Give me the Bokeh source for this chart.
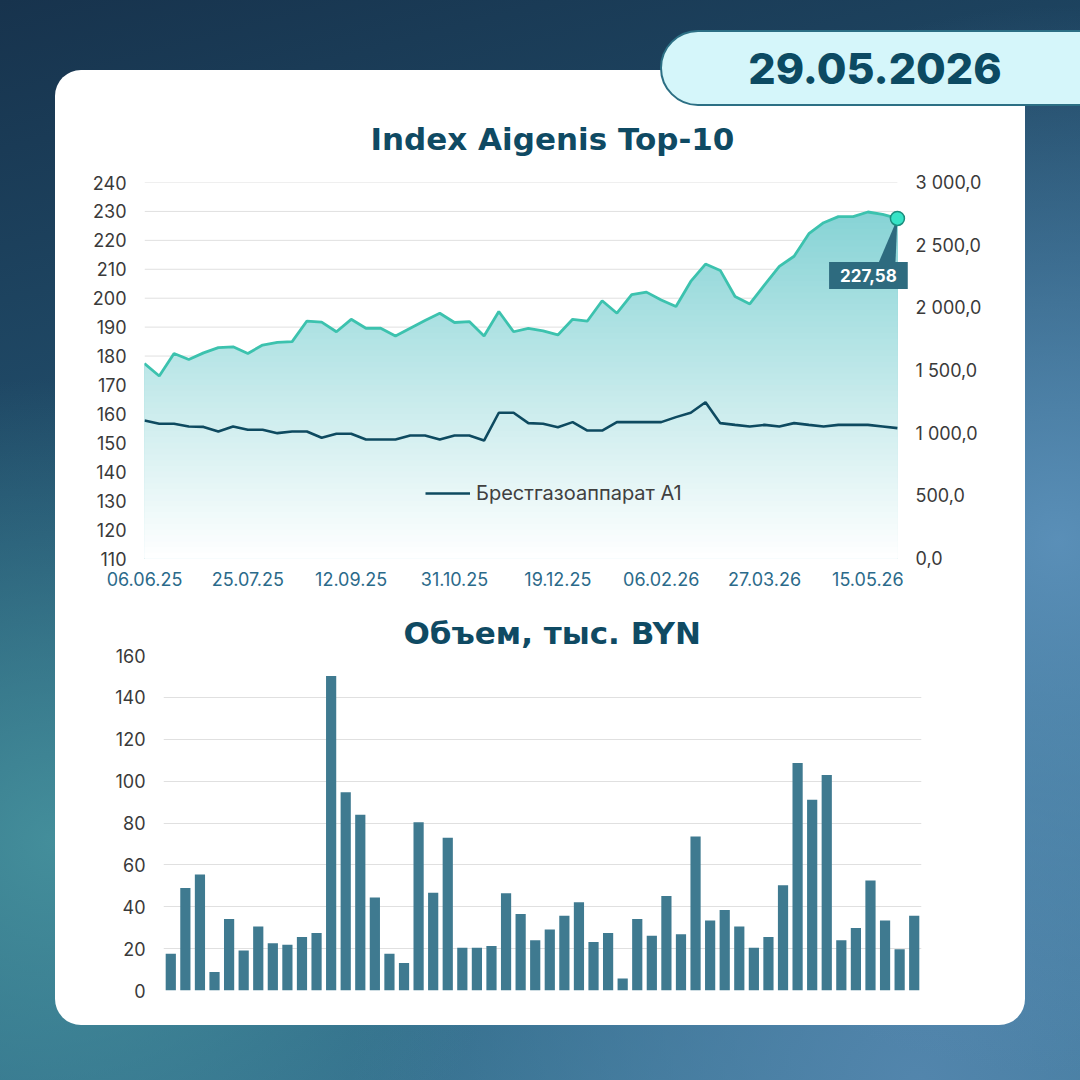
import numpy as np
import pandas as pd
from urllib.parse import quote
from bokeh.plotting import figure
from bokeh.models import (Range1d, LinearAxis, FixedTicker, DatetimeTickFormatter, Label,
                          Legend, LegendItem, Div, Spacer)
from bokeh.layouts import column, row
from bokeh.embed import file_html
from bokeh.resources import INLINE

FONT = "Inter"
TITLE_FONT = "DejaVu Sans"

# ---------------- data ----------------
report_date = "29.05.2026"
title_top = "Index Aigenis Top-10"
title_bottom = "Объем, тыс. BYN"
series_name = "Брестгазоаппарат А1"

dates = pd.date_range("2025-06-06", periods=52, freq="7D")
tick_labels = ["06.06.25", "25.07.25", "12.09.25", "31.10.25",
               "19.12.25", "06.02.26", "27.03.26", "15.05.26"]

index_values = [177.4, 173.1, 180.9, 178.8, 181.1, 182.9, 183.2, 180.9, 183.8, 184.7,
                185.0, 192.1, 191.7, 188.4, 192.7, 189.6, 189.6, 186.9, 189.6, 192.3,
                194.8, 191.6, 191.9, 186.9, 195.4, 188.4, 189.6, 188.7, 187.3, 192.7,
                192.1, 199.1, 194.8, 201.2, 202.1, 199.4, 197.1, 205.8, 211.8, 209.6,
                200.6, 198.0, 204.6, 211.0, 214.5, 222.3, 226.1, 228.2, 228.2, 229.8,
                229.0, 227.58]

brest_values = [1101, 1075, 1075, 1053, 1050, 1013, 1053, 1027, 1027, 1000,
                1013, 1013, 963, 995, 995, 949, 949, 949, 981, 981,
                949, 981, 981, 941, 1163, 1163, 1080, 1075, 1048, 1088,
                1021, 1021, 1088, 1088, 1088, 1088, 1128, 1163, 1247, 1080,
                1066, 1053, 1066, 1053, 1080, 1066, 1053, 1066, 1066, 1066,
                1053, 1040]

volume_values = [17.5, 48.9, 55.4, 8.8, 34.2, 19.1, 30.6, 22.6, 21.8, 25.5,
                 27.5, 150.2, 94.7, 83.9, 44.4, 17.5, 13.1, 80.3, 46.7, 72.9,
                 20.4, 20.4, 21.2, 46.5, 36.5, 24.0, 29.1, 35.7, 42.2, 23.2,
                 27.5, 5.7, 34.2, 26.1, 45.1, 26.9, 73.6, 33.4, 38.5, 30.6,
                 20.4, 25.5, 50.3, 108.6, 91.1, 102.9, 24.0, 29.9, 52.5, 33.4,
                 19.7, 35.7]

left_ticks = list(range(110, 241, 10))
right_ticks = [0, 500, 1000, 1500, 2000, 2500, 3000]
vol_ticks = list(range(0, 161, 20))

# ---------------- helpers ----------------
DAY = 86400000.0
x_ms = (dates.astype("int64") // 10**6).astype(float).values
tick_ms = [float(pd.Timestamp(pd.to_datetime(t, format="%d.%m.%y")).value // 10**6) for t in tick_labels]
idx = np.array(index_values, dtype=float)

def fmt_ru(v):
    return f"{v:,.1f}".replace(",", " ").replace(".", ",")

def mix(c1, c2, t):
    a = [int(c1[i:i + 2], 16) for i in (1, 3, 5)]
    b = [int(c2[i:i + 2], 16) for i in (1, 3, 5)]
    return "#" + "".join(f"{int(round(a[k] + (b[k] - a[k]) * t)):02x}" for k in range(3))

TEXT = "#3a3a3a"
NAVY = "#0f4a63"
GRID = "#e0e0e0"

def style_axis(ax, color=TEXT, size="18px", standoff=18):
    ax.axis_line_color = None
    ax.major_tick_line_color = None
    ax.minor_tick_line_color = None
    ax.major_tick_out = 0
    ax.major_tick_in = 0
    ax.major_label_text_font = FONT
    ax.major_label_text_font_size = size
    ax.major_label_text_color = color
    ax.major_label_standoff = standoff

def style_title(p, text, offset, standoff):
    p.title.text = text
    p.title.text_font = TITLE_FONT
    p.title.text_font_size = "31px"
    p.title.text_font_style = "bold"
    p.title.text_color = NAVY
    p.title.align = "left"
    p.title.offset = offset
    p.title.standoff = standoff

# ---------------- top chart ----------------
# the frame runs a little past the last date so the end marker and its label are not clipped
p1 = figure(width=970, height=512, x_axis_type="datetime",
            x_range=Range1d(x_ms[0], x_ms[-1] + 6.2 * DAY), y_range=Range1d(110, 240),
            output_backend="svg", toolbar_location=None,
            min_border_left=89, min_border_right=115, min_border_top=94, min_border_bottom=42,
            background_fill_color="white", border_fill_color=None, outline_line_color=None)
p1.extra_y_ranges = {"price": Range1d(0, 3000)}
style_title(p1, title_top, 226, 52)

p1.yaxis.ticker = FixedTicker(ticks=left_ticks)
style_axis(p1.yaxis[0])
p1.xaxis.ticker = FixedTicker(ticks=tick_ms)
p1.xaxis.formatter = DatetimeTickFormatter(days="%d.%m.%y", months="%d.%m.%y", years="%d.%m.%y")
style_axis(p1.xaxis[0], color="#2b6a8a", size="18px", standoff=13)
p1.xgrid.visible = False
p1.ygrid.visible = False
# horizontal grid lines spanning exactly the dated period
p1.segment(x0=x_ms[0], y0=left_ticks, x1=x_ms[-1], y1=left_ticks,
           line_color=GRID, line_width=1, level="underlay")

rax = LinearAxis(y_range_name="price", ticker=FixedTicker(ticks=right_ticks),
                 major_label_overrides={t: fmt_ru(t) for t in right_ticks})
style_axis(rax, standoff=5)
p1.add_layout(rax, "right")

# gradient fill under the index line: nested regions under min(line, level),
# with the exact crossing points of the line and every level inserted
levels = np.arange(110, 240.001, 2.0)
gx, gy = [x_ms[0]], [idx[0]]
for i in range(len(idx) - 1):
    x0, x1, y0, y1 = x_ms[i], x_ms[i + 1], idx[i], idx[i + 1]
    if y1 != y0:
        lo_, hi_ = min(y0, y1), max(y0, y1)
        cross = levels[(levels > lo_) & (levels < hi_)]
        ts = np.sort((cross - y0) / (y1 - y0))
        for t in ts:
            gx.append(x0 + t * (x1 - x0))
            gy.append(y0 + t * (y1 - y0))
    gx.append(x1)
    gy.append(y1)
gx, gy = np.array(gx), np.array(gy)

top_col, bot_col = "#86d3d5", "#ffffff"
for hi in levels[::-1]:
    if hi - 2.0 >= idx.max():
        continue
    t = min(1.0, max(0.0, (hi - 1.0 - 110) / (230 - 110)))
    p1.varea(x=gx, y1=110, y2=np.minimum(gy, hi), fill_color=mix(bot_col, top_col, t))

p1.line(x_ms, idx, line_color="#3cc2ae", line_width=2.8)
dark = p1.line(x_ms, brest_values, y_range_name="price", line_color="#0e4a60", line_width=2.6)

# callout for last value
last_x, last_y = x_ms[-1], idx[-1]
p1.patch([last_x, last_x - 9.5 * DAY, last_x - 1.0 * DAY],
         [last_y, last_y - 16.3, last_y - 16.3], fill_color="#2e6b7f", line_color=None)
p1.scatter([last_x], [last_y], size=14, fill_color="#36e3c6", line_color="#1b8e7e", line_width=1.5)
p1.add_layout(Label(x=last_x, y=last_y, x_offset=-29, y_offset=-57,
                    text=f"{last_y:.2f}".replace(".", ","), text_align="center",
                    text_baseline="middle", text_color="white", text_font=FONT,
                    text_font_size="17px", text_font_style="bold",
                    background_fill_color="#2e6b7f", padding=(11, 7)))

legend = Legend(items=[LegendItem(label=series_name, renderers=[dark])], location=(281, 53),
                background_fill_alpha=0, border_line_color=None, padding=0, margin=0,
                glyph_width=45, glyph_height=20, label_height=20, label_standoff=6,
                label_text_font=FONT, label_text_font_size="20px", label_text_color="#404040")
p1.add_layout(legend)

# ---------------- bottom chart ----------------
p2 = figure(width=970, height=400, x_axis_type="datetime",
            x_range=Range1d(x_ms[0] - 3.5 * DAY, x_ms[-1] + 3.5 * DAY), y_range=Range1d(0, 160),
            output_backend="svg", toolbar_location=None,
            min_border_left=108, min_border_right=104, min_border_top=55, min_border_bottom=10,
            background_fill_color="white", border_fill_color=None, outline_line_color=None)
style_title(p2, title_bottom, 240, 10)
p2.xaxis.visible = False
p2.xgrid.visible = False
p2.yaxis.ticker = FixedTicker(ticks=vol_ticks)
style_axis(p2.yaxis[0])
p2.ygrid.grid_line_color = GRID
p2.vbar(x=x_ms, top=volume_values, width=0.7 * 7 * DAY, fill_color="#3f7a90", line_color=None)

# ---------------- page layout ----------------
# white card and date badge are painted in the page background
card_svg = ("<svg xmlns='http://www.w3.org/2000/svg' width='1080' height='1080'>"
            "<rect x='55' y='70' width='970' height='955' rx='26' ry='26' fill='#ffffff'/>"
            "<rect x='661' y='31' width='470' height='74' rx='37' ry='37' fill='#d5f6fa' "
            "stroke='#2c6f84' stroke-width='2'/></svg>")
card_bg = "url(\"data:image/svg+xml;charset=utf-8," + quote(card_svg) + "\") 0 0 / 1080px 1080px no-repeat"

header = Div(text=f"""<div style="position:relative;width:1080px;height:88px;">
  <div style="position:absolute;left:875px;top:68px;transform:translate(-50%,-50%);
              font-family:'{FONT}';font-weight:800;font-size:43px;line-height:1;color:#0c4a62;
              white-space:nowrap;">{report_date}</div></div>""", width=1080, height=88, margin=0)

layout = column(
    header,
    row(Spacer(width=55, height=512), p1),
    row(Spacer(width=55, height=400), p2),
    width=1080, height=1080,
    styles={"background": card_bg + ", "
                          "radial-gradient(circle at 5% 78%, rgba(72,150,160,0.85) 0%, rgba(72,150,160,0) 35%), "
                          "radial-gradient(circle at 98% 50%, rgba(95,148,190,0.9) 0%, rgba(95,148,190,0) 45%), "
                          "radial-gradient(circle at 85% 100%, rgba(85,135,175,0.9) 0%, rgba(85,135,175,0) 40%), "
                          "linear-gradient(165deg, #17334d 0%, #22506e 40%, #2f6a86 75%, #3b7796 100%)"},
)

open("out.html", "w").write(file_html(layout, INLINE))
